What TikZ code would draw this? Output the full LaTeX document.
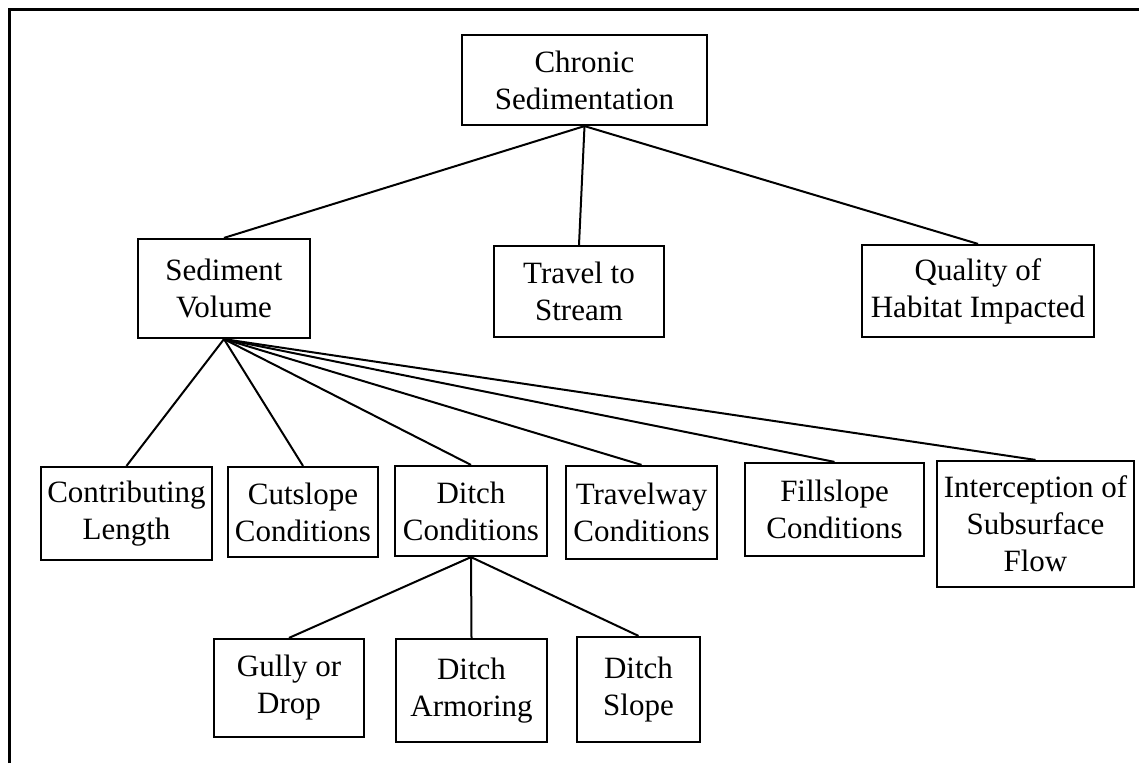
\documentclass[tikz,border=0pt]{standalone}
\usepackage{fontspec}
\setmainfont{Liberation Serif}
\begin{document}
\begin{tikzpicture}[x=1pt,y=-1pt,
  box/.style={draw=black, line width=2.2pt, inner sep=0pt, align=center,
              font=\fontsize{31}{37}\selectfont},
  link/.style={line width=2pt, black}]
\useasboundingbox (0,0) rectangle (1139,763);
% frame (top and left rules)
\draw[line width=3pt] (9.5,763) -- (9.5,9.5) -- (1139,9.5);

% level 0
\node[box, minimum width=245pt, minimum height=90pt] (chronic) at (584.5,80) {Chronic\\Sedimentation};

% level 1
\node[box, minimum width=172pt, minimum height=99pt] (volume) at (224,288.5) {Sediment\\Volume};
\node[box, minimum width=170pt, minimum height=91pt] (travel) at (579,291.5) {Travel to\\Stream};
\node[box, minimum width=232pt, minimum height=92pt] (quality) at (978,291) {Quality of\\Habitat Impacted};

% level 2
\node[box, minimum width=171pt, minimum height=93pt] (contrib) at (126.5,513.5) {Contributing\\Length};
\node[box, minimum width=150pt, minimum height=90pt] (cutslope) at (303,512) {Cutslope\\Conditions};
\node[box, minimum width=152pt, minimum height=90pt] (ditch) at (471,511) {Ditch\\Conditions};
\node[box, minimum width=151pt, minimum height=93pt] (travelway) at (641.5,512.5) {Travelway\\Conditions};
\node[box, minimum width=179pt, minimum height=93pt] (fillslope) at (834.5,509.5) {Fillslope\\Conditions};
\node[box, minimum width=197pt, minimum height=126pt] (intercept) at (1035.5,524) {Interception of\\Subsurface\\Flow};

% level 3
\node[box, minimum width=150pt, minimum height=98pt] (gully) at (289,688) {Gully or\\Drop};
\node[box, minimum width=151pt, minimum height=103pt] (armor) at (471.5,690.5) {Ditch\\Armoring};
\node[box, minimum width=123pt, minimum height=105pt] (slope) at (638.5,689.5) {Ditch\\Slope};

% connectors
\foreach \c in {volume,travel,quality}
  \draw[link] (chronic.south) -- (\c.north);
\foreach \c in {contrib,cutslope,ditch,travelway,fillslope,intercept}
  \draw[link] (volume.south) -- (\c.north);
\foreach \c in {gully,armor,slope}
  \draw[link] (ditch.south) -- (\c.north);
\end{tikzpicture}
\end{document}
